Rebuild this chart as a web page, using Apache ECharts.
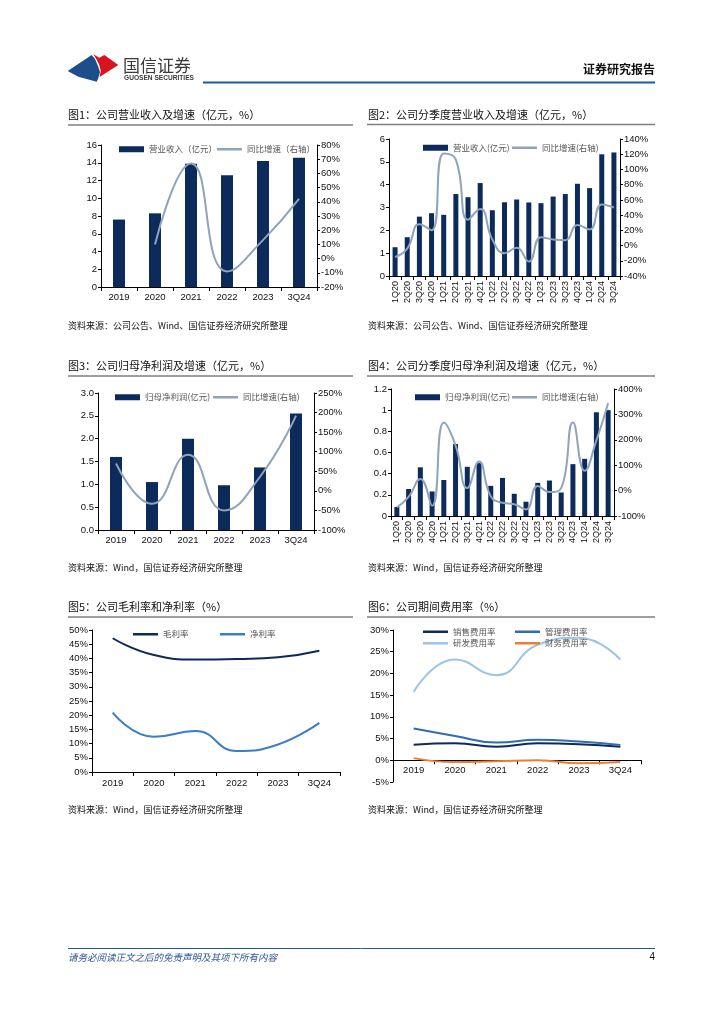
<!DOCTYPE html>
<html><head><meta charset="utf-8">
<script src="https://cdn.jsdelivr.net/npm/echarts@6/dist/echarts.min.js"></script>
<style>html,body{margin:0;padding:0;background:#fff}#c{width:724px;height:1024px}</style>
</head><body><div id="c"></div>
<script>
// ---------- data ----------
const years = ['2019','2020','2021','2022','2023','3Q24'];
const quarters = ['1Q20','2Q20','3Q20','4Q20','1Q21','2Q21','3Q21','4Q21','1Q22','2Q22','3Q22','4Q22','1Q23','2Q23','3Q23','4Q23','1Q24','2Q24','3Q24'];
const revenue = [7.6, 8.3, 13.9, 12.6, 14.2, 14.55];
const revenueYoY = [null, 10, 67, -9, 13, 42];
const qRevenue = [1.26,1.70,2.60,2.75,2.68,3.59,3.45,4.07,2.88,3.23,3.35,3.22,3.19,3.48,3.59,4.04,3.85,5.33,5.41];
const qRevenueYoY = [-15,-4,28,20,121,113,34,48,8,-10,-3,-21,11,8,7,27,21,54,50];
const netProfit = [1.60, 1.05, 2.00, 0.98, 1.37, 2.55];
const netProfitYoY = [70, -33, 92, -50, 36, 192];
const qNetProfit = [0.085,0.255,0.46,0.232,0.34,0.68,0.465,0.50,0.285,0.36,0.21,0.135,0.313,0.335,0.222,0.49,0.54,0.98,1.0];
const qNetProfitYoY = [-66,-25,46,-60,268,178,10,115,-22,-48,-54,-74,18,-6,10,268,78,198,344];
const grossMargin = [47.1, 41.2, 39.6, 39.8, 40.4, 42.7];
const netMargin = [20.9, 12.4, 14.4, 7.4, 9.7, 17.3];
const sellingRate = [3.6, 3.9, 3.1, 3.9, 3.7, 3.1];
const adminRate = [7.3, 5.6, 4.1, 4.7, 4.3, 3.5];
const rdRate = [15.8, 23.2, 19.6, 26.6, 28.2, 23.2];
const financeRate = [0.5, -0.4, -0.2, 0.0, -0.7, -0.4];

// ---------- styles ----------
const NAVY = '#0C2A5A';
const GRAYL = '#8FA3BA';
const NUMF = '"Liberation Sans", Arial, sans-serif';
const CJK = '"Noto Sans CJK SC", sans-serif';

function cat(gi, data, extra) {
  return Object.assign({
    type: 'category', gridIndex: gi, data: data, boundaryGap: true,
    axisLine: { show: true, lineStyle: { color: '#000', width: 1 } },
    axisTick: { show: true, length: 4, lineStyle: { color: '#000' } },
    axisLabel: { color: '#111', fontSize: 9.5, fontFamily: NUMF, margin: 5 }
  }, extra || {});
}
function val(gi, min, max, interval, fmt, pos) {
  return {
    type: 'value', gridIndex: gi, min: min, max: max, interval: interval, position: pos || 'left',
    axisLine: { show: true, onZero: false, lineStyle: { color: '#000', width: 1 } },
    axisTick: { show: true, length: 3, lineStyle: { color: '#000' } },
    splitLine: { show: false },
    axisLabel: { color: '#111', fontSize: 9.5, fontFamily: NUMF, margin: 4, formatter: fmt }
  };
}
const pct = v => v + '%';
function lg(name, left, top, isBar) {
  return {
    data: [{ name: name, icon: 'rect' }], left: left, top: top,
    itemWidth: 25, itemHeight: isBar ? 6 : 2.5, padding: 0,
    textStyle: { fontSize: 8.5, color: '#555', fontFamily: CJK }
  };
}

const grids = [
  { left: 101, top: 145, width: 216, height: 142 },
  { left: 389, top: 139, width: 231, height: 137 },
  { left: 98, top: 393, width: 216, height: 137 },
  { left: 391, top: 389, width: 223, height: 127 },
  { left: 92, top: 630, width: 248, height: 142 },
  { left: 393, top: 630, width: 248, height: 152 }
];

const xAxes = [
  cat(0, years),
  cat(1, quarters, { axisLabel: { color: '#111', fontSize: 9, fontFamily: NUMF, margin: 5, rotate: 90, interval: 0 } }),
  cat(2, years),
  cat(3, quarters, { axisLabel: { color: '#111', fontSize: 9, fontFamily: NUMF, margin: 5, rotate: 90, interval: 0 } }),
  cat(4, years, { axisLabel: { color: '#111', fontSize: 9.5, fontFamily: NUMF, margin: 6 } }),
  cat(5, years, { axisLine: { show: true, onZero: true, lineStyle: { color: '#000', width: 1 } },
                  axisLabel: { color: '#111', fontSize: 9.5, fontFamily: NUMF, margin: -17 } })
];
const yAxes = [
  val(0, 0, 16, 2, null, 'left'),
  val(0, -20, 80, 10, pct, 'right'),
  val(1, 0, 6, 1, null, 'left'),
  val(1, -40, 140, 20, pct, 'right'),
  val(2, 0, 3, 0.5, v => v.toFixed(1), 'left'),
  val(2, -100, 250, 50, pct, 'right'),
  val(3, 0, 1.2, 0.2, v => String(Math.round(v * 10) / 10), 'left'),
  val(3, -100, 400, 100, pct, 'right'),
  val(4, 0, 50, 5, pct, 'left'),
  val(5, -5, 30, 5, pct, 'left')
];

function bar(name, xi, yi, data, w) {
  return { name: name, type: 'bar', xAxisIndex: xi, yAxisIndex: yi, data: data, barWidth: w,
    itemStyle: { color: NAVY }, z: 2 };
}
function line(name, xi, yi, data, color, w) {
  return { name: name, type: 'line', xAxisIndex: xi, yAxisIndex: yi, data: data, smooth: true,
    symbol: 'none', lineStyle: { color: color, width: w || 2 }, itemStyle: { color: color }, z: 3 };
}

const series = [
  bar('营业收入（亿元）', 0, 0, revenue, 12),
  line('同比增速（右轴）', 0, 1, revenueYoY, GRAYL),
  bar('营业收入(亿元)', 1, 2, qRevenue, 5),
  line('同比增速(右轴)', 1, 3, qRevenueYoY, GRAYL),
  bar('归母净利润(亿元)', 2, 4, netProfit, 12),
  line('同比增速(右轴) ', 2, 5, netProfitYoY, GRAYL),
  bar('归母净利润(亿元) ', 3, 6, qNetProfit, 5),
  line('同比增速(右轴)  ', 3, 7, qNetProfitYoY, GRAYL),
  line('毛利率', 4, 8, grossMargin, '#0C2A5A', 2),
  line('净利率', 4, 8, netMargin, '#3C7DC4', 2),
  line('销售费用率', 5, 9, sellingRate, '#0C2A5A', 2),
  line('管理费用率', 5, 9, adminRate, '#2F6DB0', 2),
  line('研发费用率', 5, 9, rdRate, '#9DC3E6', 2),
  line('财务费用率', 5, 9, financeRate, '#ED7D31', 2)
];

const legends = [
  lg('营业收入（亿元）', 119, 145, true),
  lg('同比增速（右轴）', 217, 145, false),
  lg('营业收入(亿元)', 423, 143.5, true),
  lg('同比增速(右轴)', 512, 143.5, false),
  lg('归母净利润(亿元)', 115, 393, true),
  lg('同比增速(右轴) ', 213, 393, false),
  lg('归母净利润(亿元) ', 415, 393, true),
  lg('同比增速(右轴)  ', 512, 393, false),
  lg('毛利率', 133, 630, false),
  lg('净利率', 220, 630, false),
  lg('销售费用率', 423, 627.5, false),
  lg('管理费用率', 515, 627.5, false),
  lg('研发费用率', 423, 639, false),
  lg('财务费用率', 515, 639, false)
];

function txtAt(x, y, s, size, opts) {
  return { type: 'text', silent: true, style: Object.assign({
    text: s, x: x, y: y, fill: '#111', font: size + 'px ' + CJK, textVerticalAlign: 'middle', textAlign: 'left' }, opts || {}) };
}
function hline(x1, x2, y, color, w) {
  return { type: 'line', silent: true, shape: { x1: x1, y1: y, x2: x2, y2: y }, style: { stroke: color, lineWidth: w } };
}

const graphics = [
  // logo
  { type: 'polygon', silent: true, shape: { points: [[67.7,71],[91.7,55],[95,59],[98,66],[100,72],[98.3,78.3],[96.7,81.7],[78.3,76.7]] }, style: { fill: '#1C4E8B' } },
  { type: 'polygon', silent: true, shape: { points: [[93.3,54.3],[99.3,57.7],[104.3,55],[118.3,65],[99.5,77],[100.8,71],[99.3,65],[96.3,59]] }, style: { fill: '#D7141F' } },
  txtAt(123, 66, '国信证券', 17, { fill: '#3a3a3a' }),
  txtAt(124, 78.5, 'GUOSEN SECURITIES', 6.6, { fill: '#3a3a3a', font: 'bold 6.6px ' + NUMF }),
  txtAt(655, 69, '证券研究报告', 12, { textAlign: 'right', font: 'bold 12px ' + CJK, fill: '#111' }),
  hline(203, 655, 82.5, '#1F5A96', 2),
  // titles
  txtAt(68, 115, '图1：公司营业收入及增速（亿元，%）', 11),
  hline(68, 353, 125, '#7F7F7F', 1.5),
  txtAt(368, 115, '图2：公司分季度营业收入及增速（亿元，%）', 11),
  hline(367, 655, 124.5, '#7F7F7F', 1.5),
  txtAt(68, 366, '图3：公司归母净利润及增速（亿元，%）', 11),
  hline(68, 353, 376, '#7F7F7F', 1.5),
  txtAt(368, 366, '图4：公司分季度归母净利润及增速（亿元，%）', 11),
  hline(367, 655, 376, '#7F7F7F', 1.5),
  txtAt(68, 607, '图5：公司毛利率和净利率（%）', 11),
  hline(68, 353, 617, '#7F7F7F', 1.5),
  txtAt(368, 607, '图6：公司期间费用率（%）', 11),
  hline(367, 655, 617, '#7F7F7F', 1.5),
  // sources
  txtAt(68, 326, '资料来源：公司公告、Wind、国信证券经济研究所整理', 9),
  txtAt(368, 326, '资料来源：公司公告、Wind、国信证券经济研究所整理', 9),
  txtAt(68, 568, '资料来源：Wind，国信证券经济研究所整理', 9),
  txtAt(368, 568, '资料来源：Wind，国信证券经济研究所整理', 9),
  txtAt(68, 810, '资料来源：Wind，国信证券经济研究所整理', 9),
  txtAt(368, 810, '资料来源：Wind，国信证券经济研究所整理', 9),
  // footer
  hline(68, 655, 948.5, '#1F5A96', 1),
  txtAt(68, 957, '请务必阅读正文之后的免责声明及其项下所有内容', 9.5, { font: 'italic 9.5px ' + CJK, fill: '#2F5597' }),
  txtAt(655, 957, '4', 10, { textAlign: 'right', font: '10px ' + NUMF, fill: '#111' })
];

const chart = echarts.init(document.getElementById('c'));
chart.setOption({
  animation: false,
  backgroundColor: '#fff',
  grid: grids,
  xAxis: xAxes,
  yAxis: yAxes,
  legend: legends,
  series: series,
  graphic: graphics
});
</script></body></html>
